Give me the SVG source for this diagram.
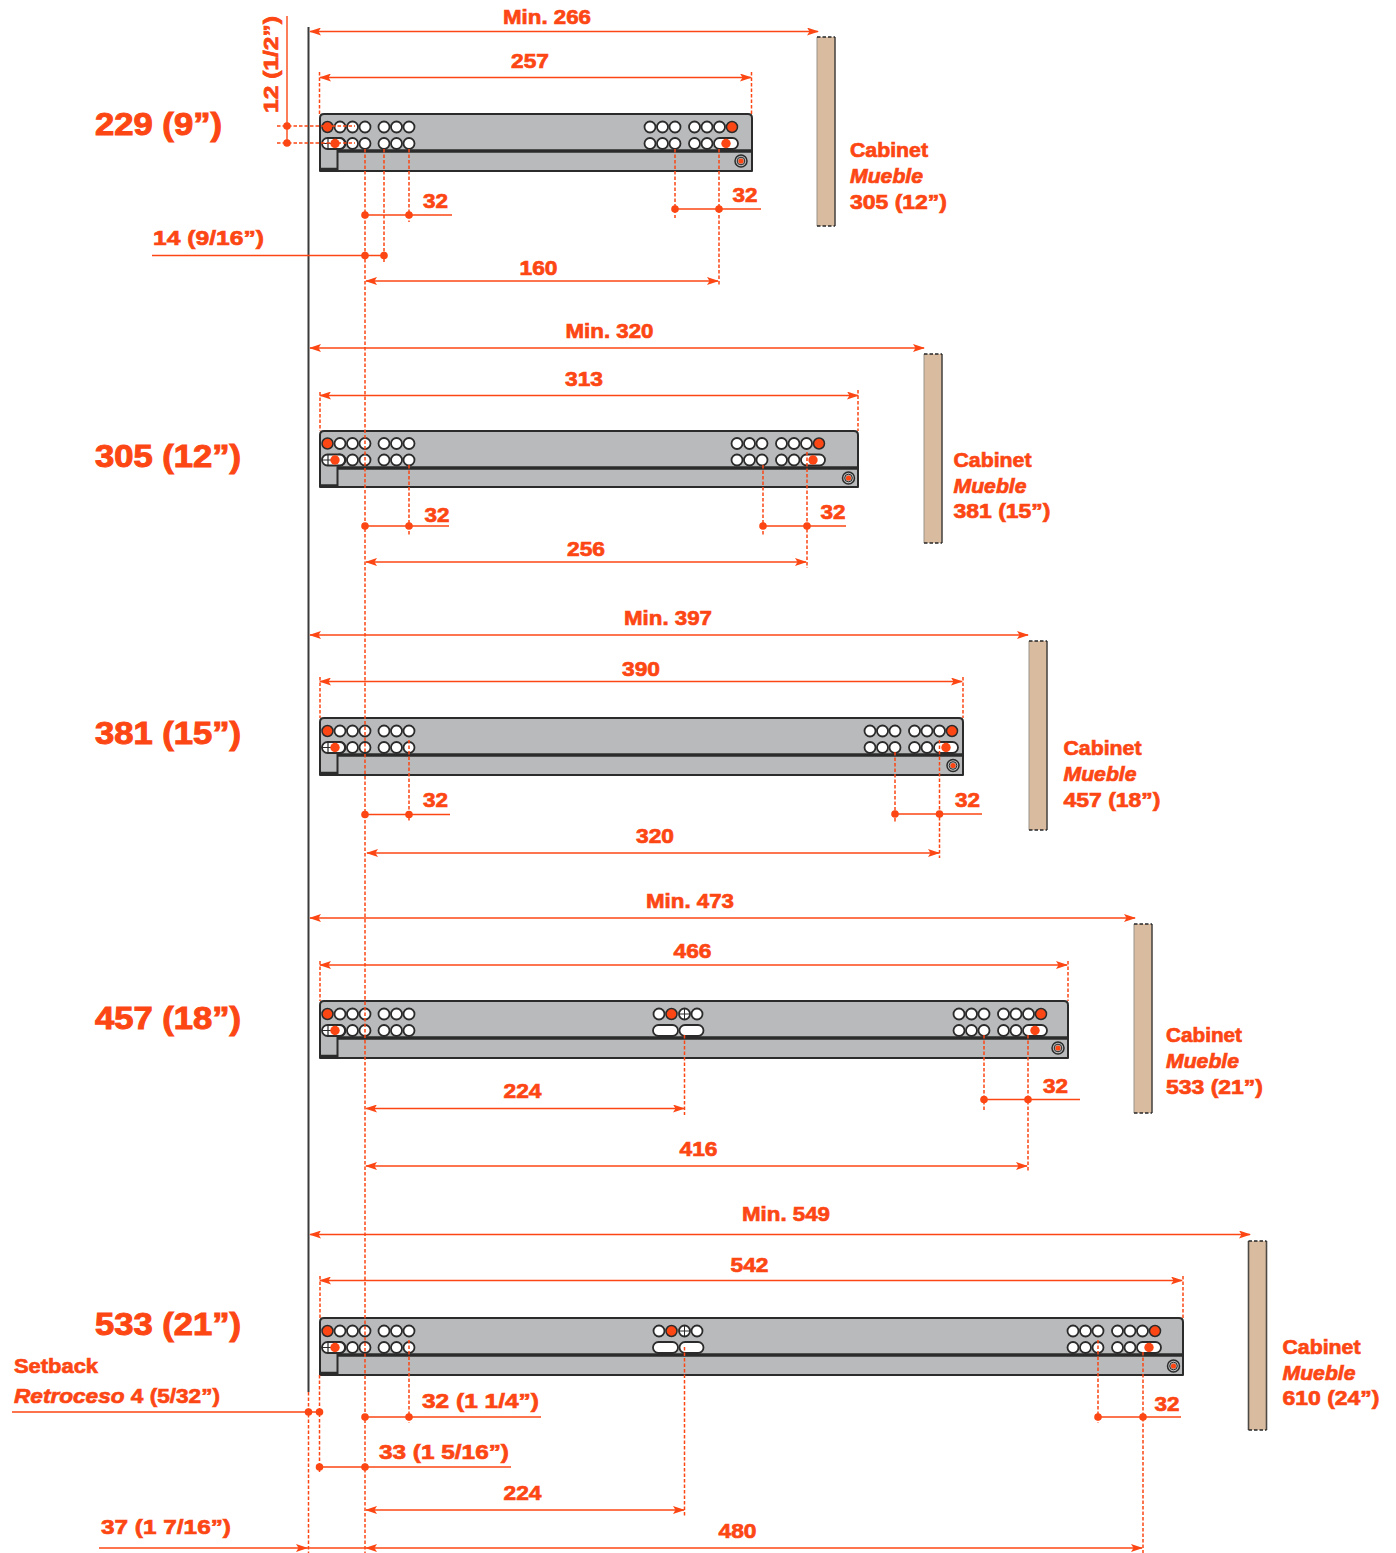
<svg xmlns="http://www.w3.org/2000/svg" width="1396" height="1553" viewBox="0 0 1396 1553">
<style>
text{font-family:"Liberation Sans",Arial,sans-serif;font-weight:700;fill:#fc4714;stroke:#fc4714;stroke-width:.7px}
.d{font-size:21px;text-anchor:middle}
.s{font-size:21px}
.c{font-size:20.5px}
.t{font-size:31px;stroke-width:1px}
.i{font-style:italic}
.body{fill:#b9babb;stroke:#2b2b2b;stroke-width:2;stroke-linejoin:round}
.dk{fill:none;stroke:#2b2b2b;stroke-width:1.200}
.bar{fill:none;stroke:#2b2b2b;stroke-width:3.500}
.h{fill:#fff;stroke:#2b2b2b;stroke-width:1.800}
.r{fill:#fc4714;stroke:#2b2b2b;stroke-width:1.500}
.rd{fill:#fc4714}
.l{fill:none;stroke:#fc4714;stroke-width:1.400}
.a{marker-end:url(#ar);marker-start:url(#ar)}
.e{marker-end:url(#ar)}
.n{fill:none;stroke:#fc4714;stroke-width:1.500;stroke-dasharray:3.500 2}
.wood{fill:#d9bba0}
.ws{fill:none;stroke:#4d4a46;stroke-width:1.600}
.wl{fill:none;stroke:#9a9388;stroke-width:1}
.wd{fill:none;stroke:#262626;stroke-width:1.400;stroke-dasharray:3.500 2}
</style>
<defs>
<marker id="ar" viewBox="0 0 12 8" refX="11" refY="4" markerWidth="12" markerHeight="8" markerUnits="userSpaceOnUse" orient="auto-start-reverse"><path d="M0,0L12,4L0,8L2.500,4Z" fill="#fc4714"/></marker>
<g id="lh">
<circle class="r" cx="8" cy="13" r="5.500"/><circle class="h" cx="20.500" cy="13" r="5.500"/><circle class="h" cx="33" cy="13" r="5.500"/><circle class="h" cx="45.500" cy="13" r="5.500"/>
<circle class="h" cx="64.500" cy="13" r="5.500"/><circle class="h" cx="77" cy="13" r="5.500"/><circle class="h" cx="89.500" cy="13" r="5.500"/>
<circle class="h" cx="20.500" cy="29.500" r="5.500"/>
<rect class="h" x="2.500" y="24" width="23" height="11" rx="5.500"/><path class="dk" d="M2.500,29.500H15M8.500,24V35"/><circle class="rd" cx="15.500" cy="29.500" r="4.700"/>
<circle class="h" cx="33" cy="29.500" r="5.500"/><circle class="h" cx="45.500" cy="29.500" r="5.500"/>
<circle class="h" cx="64.500" cy="29.500" r="5.500"/><circle class="h" cx="77" cy="29.500" r="5.500"/><circle class="h" cx="89.500" cy="29.500" r="5.500"/>
<path class="dk" style="stroke-width:2" d="M18,36V56"/><path class="dk" style="stroke-width:2.500" d="M0,55H18"/>
</g>
<g id="rh">
<circle class="h" cx="-102" cy="13" r="5.500"/><circle class="h" cx="-89.500" cy="13" r="5.500"/><circle class="h" cx="-77" cy="13" r="5.500"/>
<circle class="h" cx="-57.500" cy="13" r="5.500"/><circle class="h" cx="-45" cy="13" r="5.500"/><circle class="h" cx="-32.500" cy="13" r="5.500"/><circle class="r" cx="-20" cy="13" r="5.500"/>
<circle class="h" cx="-102" cy="29.500" r="5.500"/><circle class="h" cx="-89.500" cy="29.500" r="5.500"/><circle class="h" cx="-77" cy="29.500" r="5.500"/>
<circle class="h" cx="-57.500" cy="29.500" r="5.500"/><circle class="h" cx="-45" cy="29.500" r="5.500"/>
<rect class="h" x="-38" y="24" width="24" height="11" rx="5.500"/><circle class="rd" cx="-26" cy="29.500" r="4.700"/>
</g>
<g id="sc"><circle cx="0" cy="47" r="6" fill="#b9babb" stroke="#2b2b2b" stroke-width="1.500"/><circle cx="0" cy="47" r="3.800" fill="#b9babb" stroke="#2b2b2b" stroke-width="1"/><circle class="rd" cx="0" cy="47" r="2.600"/></g>
<g id="mh">
<circle class="h" cx="659" cy="13" r="5.500"/><circle class="r" cx="671.500" cy="13" r="5.500"/><circle class="h" cx="684.500" cy="13" r="5.500"/><path class="dk" style="stroke-width:1" d="M679,13H690M684.500,7.500V18.500"/><circle class="h" cx="697" cy="13" r="5.500"/>
<rect class="h" x="653" y="24" width="25" height="11" rx="5.500"/><rect class="h" x="679.500" y="24" width="24" height="11" rx="5.500"/>
</g>
</defs>

<g id="wall"><path d="M308.500,27V1392" fill="none" stroke="#3a3a3a" stroke-width="2"/></g>

<g id="rail-229"><path class="body" d="M320,118Q320,114 324,114H748Q752,114 752,118V171H320Z"/><path class="bar" d="M337,151H752"/><use href="#lh" x="319.500" y="114"/><use href="#rh" x="752" y="114"/><use href="#sc" x="741" y="114"/></g>
<g id="rail-305"><path class="body" d="M320,435Q320,431 324,431H854Q858,431 858,435V487H320Z"/><path class="bar" d="M337,468H858"/><use href="#lh" x="319.500" y="430.500"/><use href="#rh" x="839" y="430.500"/><use href="#sc" x="848.500" y="431"/></g>
<g id="rail-381"><path class="body" d="M320,722Q320,718 324,718H959Q963,718 963,722V775H320Z"/><path class="bar" d="M337,755H963"/><use href="#lh" x="319.500" y="718"/><use href="#rh" x="972" y="718"/><use href="#sc" x="953" y="718.500"/></g>
<g id="rail-457"><path class="body" d="M320,1005Q320,1001 324,1001H1064Q1068,1001 1068,1005V1058H320Z"/><path class="bar" d="M337,1038H1068"/><use href="#lh" x="319.500" y="1001"/><use href="#rh" x="1061" y="1001"/><use href="#mh" y="1001"/><use href="#sc" x="1058" y="1001"/></g>
<g id="rail-533"><path class="body" d="M320,1322Q320,1318 324,1318H1179Q1183,1318 1183,1322V1375H320Z"/><path class="bar" d="M337,1355H1183"/><use href="#lh" x="319.500" y="1318"/><use href="#rh" x="1175" y="1318"/><use href="#mh" y="1318"/><use href="#sc" x="1173.500" y="1319"/></g>

<g id="cabinet-305"><rect class="wood" x="817" y="37" width="18" height="189"/><path class="ws" d="M835,37V226"/><path class="wl" d="M817,37V226"/><path class="wd" d="M817,37H835M817,226H835"/></g>
<g id="cabinet-381"><rect class="wood" x="924" y="354" width="18" height="189"/><path class="ws" d="M942,354V543"/><path class="wl" d="M924,354V543"/><path class="wd" d="M924,354H942M924,543H942"/></g>
<g id="cabinet-457"><rect class="wood" x="1029" y="641" width="18" height="189"/><path class="ws" d="M1047,641V830"/><path class="wl" d="M1029,641V830"/><path class="wd" d="M1029,641H1047M1029,830H1047"/></g>
<g id="cabinet-533"><rect class="wood" x="1134" y="924" width="18" height="189"/><path class="ws" d="M1152,924V1113"/><path class="wl" d="M1134,924V1113"/><path class="wd" d="M1134,924H1152M1134,1113H1152"/></g>
<g id="cabinet-610"><rect class="wood" x="1248.500" y="1241" width="18" height="189"/><path class="ws" d="M1266.500,1241V1430"/><path class="ws" d="M1248.500,1241V1430"/><path class="wd" d="M1248.500,1241H1266.500M1248.500,1430H1266.500"/></g>

<g id="connectors">
<path class="n" d="M365,149V1553M308.500,1392V1553M319.500,1375V1472M684.500,1347V1516M1143,1352V1553M684.500,1035V1115"/>
<path class="n" d="M319.500,72V114M751.500,72V114M277,126H355M277,143H355M384,149V262M409,149V222M675,149V218M719,149V285"/>
<path class="n" d="M320,392V431M858,390V431M409,465V535M763,465V535M807,452V568"/>
<path class="n" d="M320,677V718M963,677V718M409,740V822M895,752V822M939.500,740V858"/>
<path class="n" d="M320,961V1001M1068,961V1001M984,1035V1110M1028,1035V1172"/>
<path class="n" d="M320,1276V1318M1183,1276V1318M409,1340V1423M1098,1340V1423"/>
<path class="l a" d="M310,31.500H818"/><path class="l a" d="M320,77.500H751"/><path class="l a" d="M366,281H718"/>
<path class="l a" d="M310,348H924"/><path class="l a" d="M320,395.500H858"/><path class="l a" d="M366,562H806"/>
<path class="l a" d="M310,635H1028"/><path class="l a" d="M320,681.500H962"/><path class="l a" d="M367,853H939"/>
<path class="l a" d="M310,918H1135"/><path class="l a" d="M320,965H1067"/><path class="l a" d="M366,1108.500H684"/><path class="l a" d="M366,1166H1027"/>
<path class="l a" d="M310,1234.500H1250"/><path class="l a" d="M320,1280.500H1182"/><path class="l a" d="M366,1510H684"/><path class="l a" d="M366,1548H1142"/>
<path class="l e" d="M99,1548H307"/><path class="l" d="M307,1548H366"/>
<path class="l" d="M287,16V143M365,215H452M152,255.500H384M675,209H761M365,526H449M763,526H846M365,814.500H450M895,814H982M984,1099.500H1080M12,1412H319M365,1417H541M1098,1417H1181M319,1467H511"/>
<g class="rd">
<circle cx="287" cy="126" r="3.800"/><circle cx="287" cy="143" r="3.800"/><circle cx="365" cy="215" r="3.800"/><circle cx="409" cy="215" r="3.800"/><circle cx="365" cy="255.500" r="3.800"/><circle cx="384" cy="255.500" r="3.800"/><circle cx="675" cy="209" r="3.800"/><circle cx="719" cy="209" r="3.800"/>
<circle cx="365" cy="526" r="3.800"/><circle cx="409" cy="526" r="3.800"/><circle cx="763" cy="526" r="3.800"/><circle cx="807" cy="526" r="3.800"/>
<circle cx="365" cy="814.500" r="3.800"/><circle cx="409" cy="814.500" r="3.800"/><circle cx="895" cy="814" r="3.800"/><circle cx="939.500" cy="814" r="3.800"/>
<circle cx="984" cy="1099.500" r="3.800"/><circle cx="1028" cy="1099.500" r="3.800"/>
<circle cx="308.500" cy="1412" r="3.800"/><circle cx="319.500" cy="1412" r="3.800"/><circle cx="365" cy="1417" r="3.800"/><circle cx="409" cy="1417" r="3.800"/><circle cx="1098" cy="1417" r="3.800"/><circle cx="1143" cy="1417" r="3.800"/><circle cx="319.500" cy="1467" r="3.800"/><circle cx="365" cy="1467" r="3.800"/>
</g>
</g>

<g id="labels">
<text class="t" x="95" y="135" textLength="127" lengthAdjust="spacingAndGlyphs">229 (9”)</text><text class="t" x="95" y="467" textLength="146" lengthAdjust="spacingAndGlyphs">305 (12”)</text><text class="t" x="95" y="744" textLength="146" lengthAdjust="spacingAndGlyphs">381 (15”)</text><text class="t" x="95" y="1029" textLength="146" lengthAdjust="spacingAndGlyphs">457 (18”)</text><text class="t" x="95" y="1335" textLength="146" lengthAdjust="spacingAndGlyphs">533 (21”)</text>
<text class="d" x="547" y="24" textLength="88" lengthAdjust="spacingAndGlyphs">Min. 266</text><text class="d" x="530" y="68" textLength="38" lengthAdjust="spacingAndGlyphs">257</text><text class="d" x="435.500" y="208" textLength="25" lengthAdjust="spacingAndGlyphs">32</text><text class="d" x="745" y="202" textLength="25" lengthAdjust="spacingAndGlyphs">32</text><text class="d" x="538.500" y="275" textLength="38" lengthAdjust="spacingAndGlyphs">160</text>
<text class="s" transform="translate(278,113) rotate(-90)" textLength="97" lengthAdjust="spacingAndGlyphs">12 (1/2”)</text><text class="s" x="153" y="245" textLength="111" lengthAdjust="spacingAndGlyphs">14 (9/16”)</text>
<text class="d" x="609.500" y="338" textLength="88" lengthAdjust="spacingAndGlyphs">Min. 320</text><text class="d" x="584" y="386" textLength="38" lengthAdjust="spacingAndGlyphs">313</text><text class="d" x="437" y="522" textLength="25" lengthAdjust="spacingAndGlyphs">32</text><text class="d" x="833" y="519" textLength="25" lengthAdjust="spacingAndGlyphs">32</text><text class="d" x="586" y="556" textLength="38" lengthAdjust="spacingAndGlyphs">256</text>
<text class="d" x="668" y="625" textLength="88" lengthAdjust="spacingAndGlyphs">Min. 397</text><text class="d" x="641" y="676" textLength="38" lengthAdjust="spacingAndGlyphs">390</text><text class="d" x="435.500" y="807" textLength="25" lengthAdjust="spacingAndGlyphs">32</text><text class="d" x="967.500" y="807" textLength="25" lengthAdjust="spacingAndGlyphs">32</text><text class="d" x="655" y="843" textLength="38" lengthAdjust="spacingAndGlyphs">320</text>
<text class="d" x="690" y="908" textLength="88" lengthAdjust="spacingAndGlyphs">Min. 473</text><text class="d" x="692.500" y="958" textLength="38" lengthAdjust="spacingAndGlyphs">466</text><text class="d" x="522.500" y="1098" textLength="38" lengthAdjust="spacingAndGlyphs">224</text><text class="d" x="1055.500" y="1093" textLength="25" lengthAdjust="spacingAndGlyphs">32</text><text class="d" x="698.500" y="1156" textLength="38" lengthAdjust="spacingAndGlyphs">416</text>
<text class="d" x="786" y="1221" textLength="88" lengthAdjust="spacingAndGlyphs">Min. 549</text><text class="d" x="749.500" y="1272" textLength="38" lengthAdjust="spacingAndGlyphs">542</text><text class="s" x="422" y="1408" textLength="117" lengthAdjust="spacingAndGlyphs">32 (1 1/4”)</text><text class="d" x="1167" y="1411" textLength="25" lengthAdjust="spacingAndGlyphs">32</text><text class="s" x="379" y="1459" textLength="130" lengthAdjust="spacingAndGlyphs">33 (1 5/16”)</text><text class="d" x="522.500" y="1500" textLength="38" lengthAdjust="spacingAndGlyphs">224</text><text class="d" x="737.500" y="1538" textLength="38" lengthAdjust="spacingAndGlyphs">480</text><text class="s" x="101" y="1534" textLength="130" lengthAdjust="spacingAndGlyphs">37 (1 7/16”)</text>
<text class="s" x="14" y="1373" textLength="84" lengthAdjust="spacingAndGlyphs">Setback</text><text class="s" x="14" y="1403" textLength="206" lengthAdjust="spacingAndGlyphs"><tspan class="i">Retroceso</tspan> 4 (5/32”)</text>
<text class="c" x="850" y="157" textLength="78" lengthAdjust="spacingAndGlyphs">Cabinet</text><text class="c i" x="850" y="183" textLength="73" lengthAdjust="spacingAndGlyphs">Mueble</text><text class="c" x="850" y="209" textLength="97" lengthAdjust="spacingAndGlyphs">305 (12”)</text>
<text class="c" x="953.500" y="467" textLength="78" lengthAdjust="spacingAndGlyphs">Cabinet</text><text class="c i" x="953.500" y="493" textLength="73" lengthAdjust="spacingAndGlyphs">Mueble</text><text class="c" x="953.500" y="518" textLength="97" lengthAdjust="spacingAndGlyphs">381 (15”)</text>
<text class="c" x="1063.500" y="755" textLength="78" lengthAdjust="spacingAndGlyphs">Cabinet</text><text class="c i" x="1063.500" y="781" textLength="73" lengthAdjust="spacingAndGlyphs">Mueble</text><text class="c" x="1063.500" y="807" textLength="97" lengthAdjust="spacingAndGlyphs">457 (18”)</text>
<text class="c" x="1166" y="1042" textLength="76" lengthAdjust="spacingAndGlyphs">Cabinet</text><text class="c i" x="1166" y="1068" textLength="73" lengthAdjust="spacingAndGlyphs">Mueble</text><text class="c" x="1166" y="1094" textLength="97" lengthAdjust="spacingAndGlyphs">533 (21”)</text>
<text class="c" x="1282.500" y="1354" textLength="78" lengthAdjust="spacingAndGlyphs">Cabinet</text><text class="c i" x="1282.500" y="1380" textLength="73" lengthAdjust="spacingAndGlyphs">Mueble</text><text class="c" x="1282.500" y="1405" textLength="97" lengthAdjust="spacingAndGlyphs">610 (24”)</text>
</g>
</svg>
